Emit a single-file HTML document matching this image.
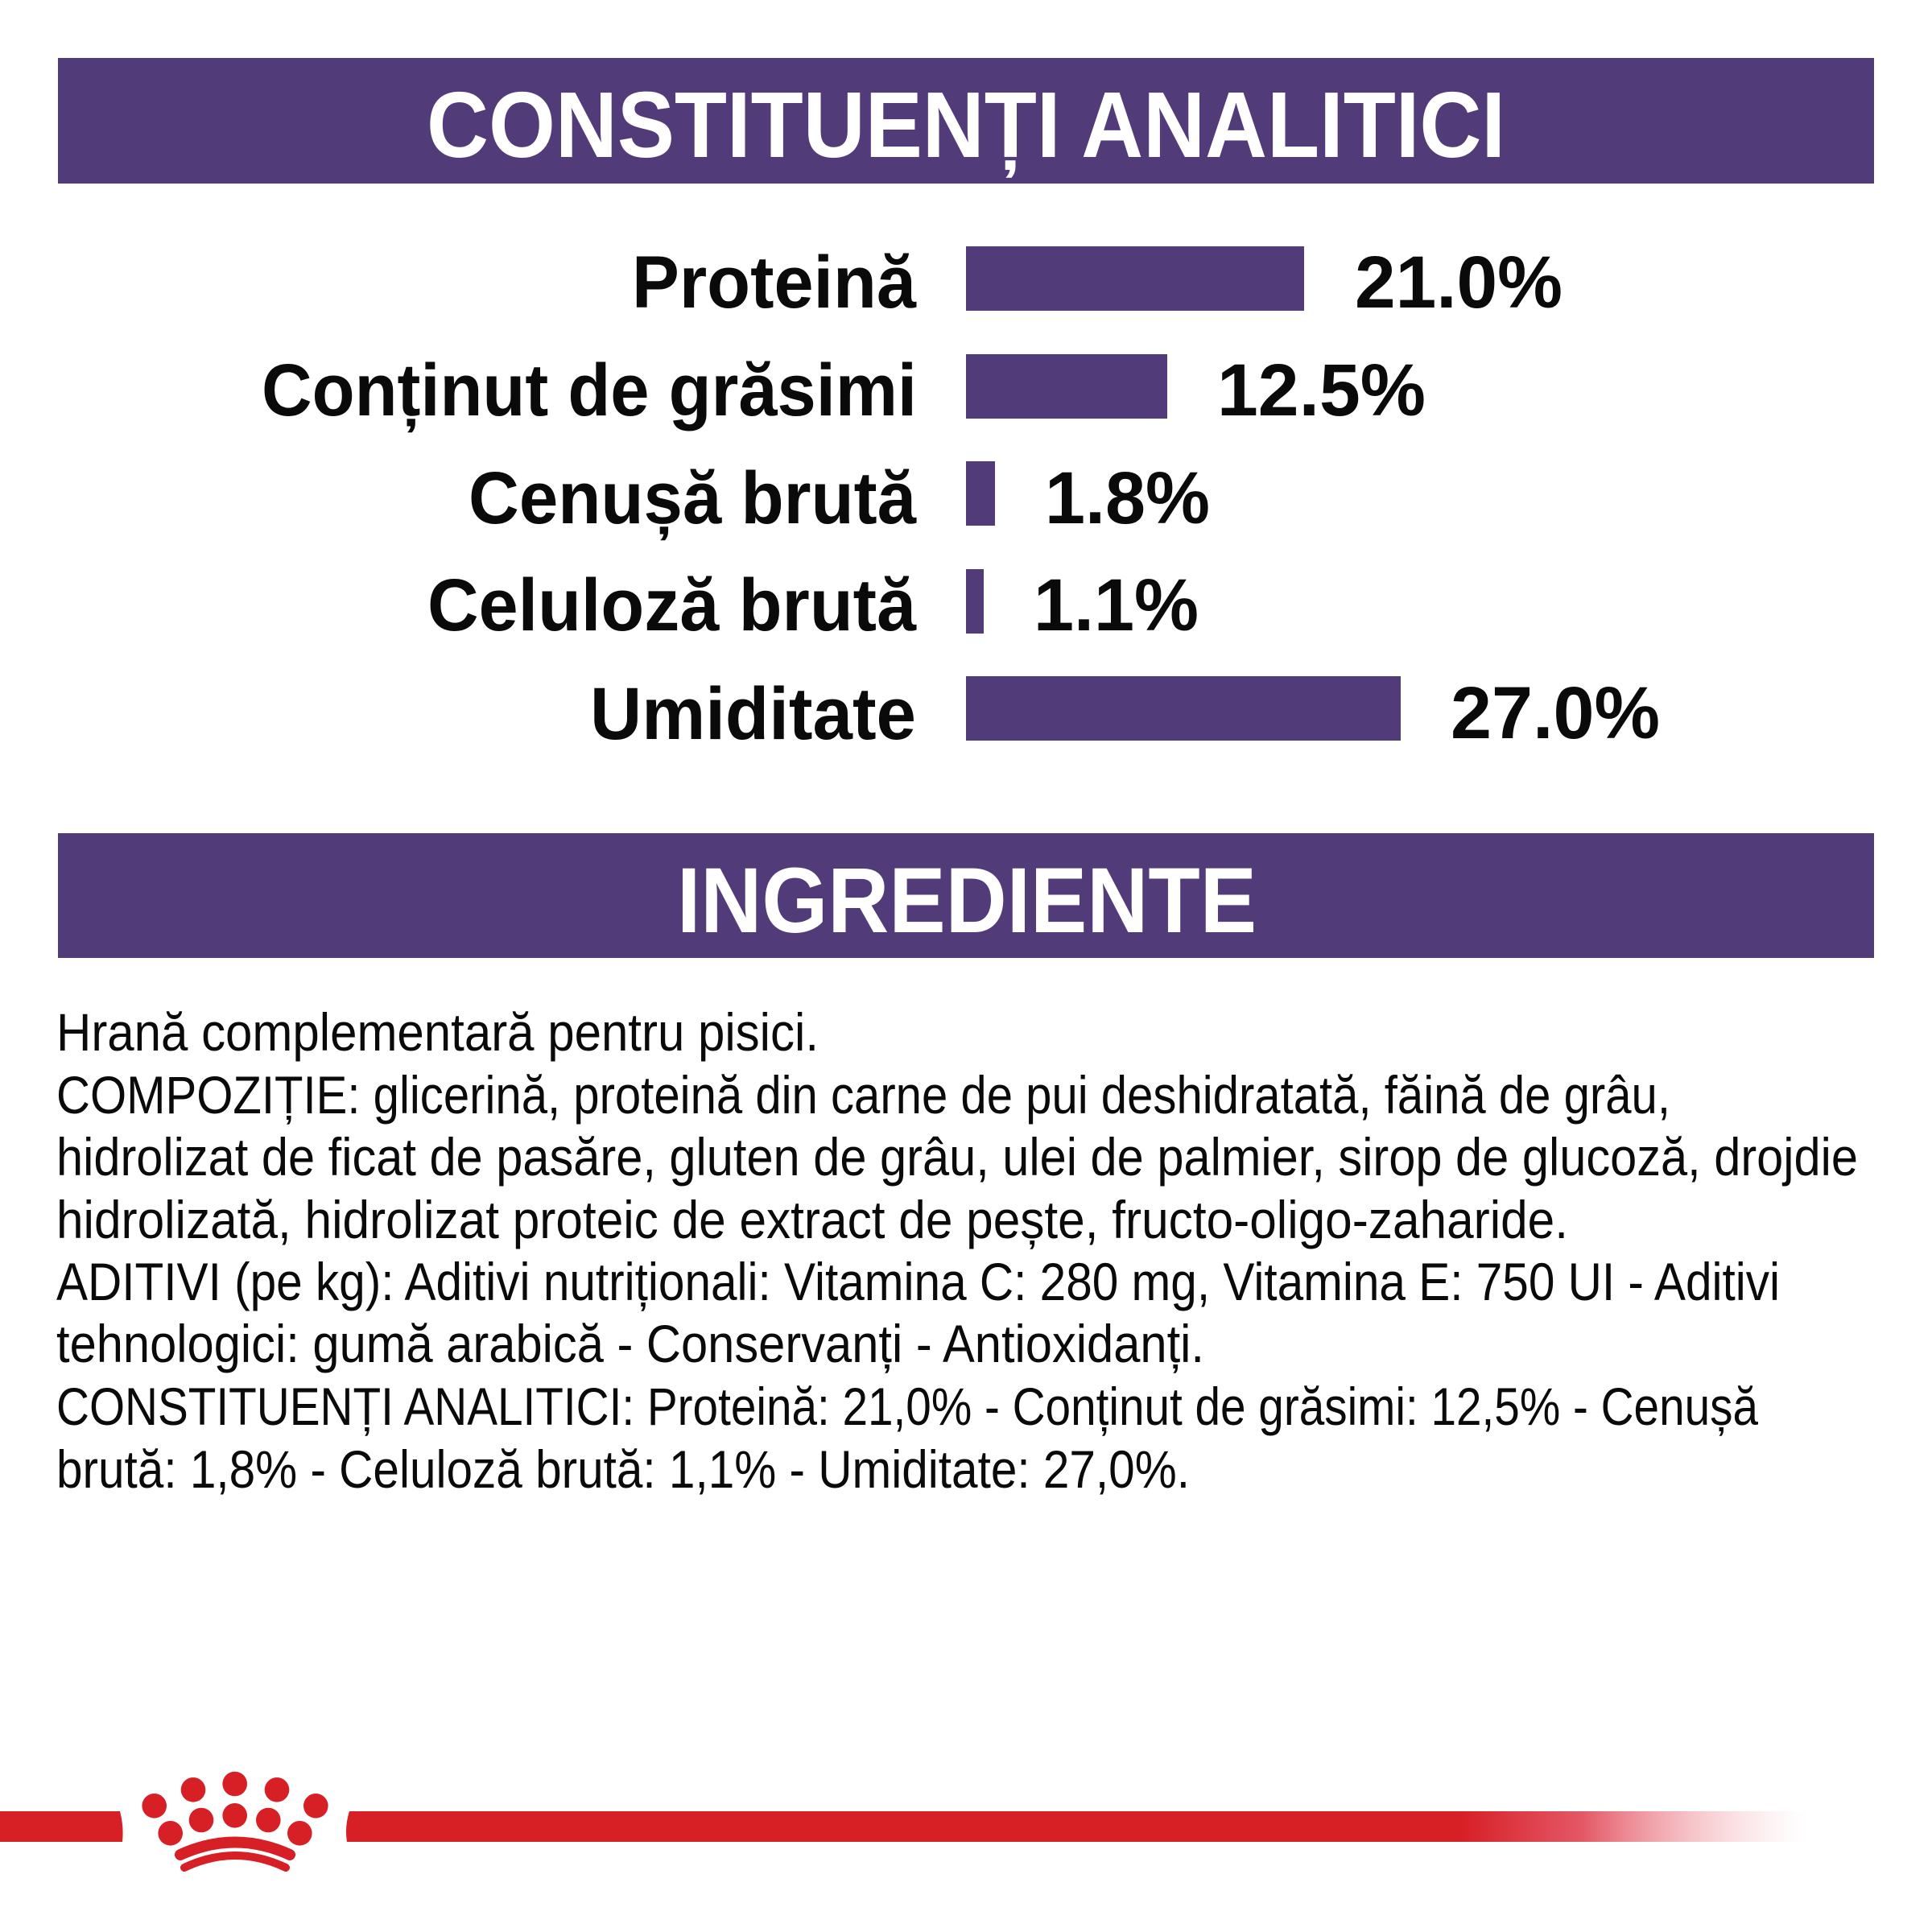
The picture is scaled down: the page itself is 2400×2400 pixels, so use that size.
<!DOCTYPE html>
<html>
<head>
<meta charset="utf-8">
<style>
  html, body { margin: 0; padding: 0; background: #ffffff; }
  svg { display: block; }
  .b { font-family: "Liberation Sans", "DejaVu Sans", sans-serif; font-weight: bold; }
  .r { font-family: "Liberation Sans", "DejaVu Sans", sans-serif; font-weight: normal; }
</style>
</head>
<body>
<svg width="2400" height="2400" viewBox="0 0 2400 2400" xmlns="http://www.w3.org/2000/svg">
  <defs>
    <linearGradient id="fade" gradientUnits="userSpaceOnUse" x1="1815" y1="0" x2="2245" y2="0">
      <stop offset="0" stop-color="#d71f26" stop-opacity="1"/>
      <stop offset="0.35" stop-color="#df3a4a" stop-opacity="0.85"/>
      <stop offset="1" stop-color="#f6b8c2" stop-opacity="0"/>
    </linearGradient>
  </defs>
  <rect x="0" y="0" width="2400" height="2400" fill="#ffffff"/>

  <!-- Header 1 -->
  <rect x="72" y="72" width="2256" height="156" fill="#513b79"/>
  <text class="b" x="530" y="195" font-size="116" fill="#ffffff" textLength="1340" lengthAdjust="spacingAndGlyphs">CONSTITUENȚI ANALITICI</text>

  <!-- Bars -->
  <rect x="1200" y="306" width="420" height="80" fill="#513b79"/>
  <rect x="1200" y="440" width="250" height="80" fill="#513b79"/>
  <rect x="1200" y="573" width="36" height="80" fill="#513b79"/>
  <rect x="1200" y="707" width="22" height="80" fill="#513b79"/>
  <rect x="1200" y="840" width="540" height="80" fill="#513b79"/>

  <!-- Labels -->
  <g class="b" font-size="92" fill="#0a0a0a">
    <text x="785" y="382" textLength="353" lengthAdjust="spacingAndGlyphs">Proteină</text>
    <text x="325" y="516" textLength="814" lengthAdjust="spacingAndGlyphs">Conținut de grăsimi</text>
    <text x="582" y="650" textLength="556" lengthAdjust="spacingAndGlyphs">Cenușă brută</text>
    <text x="531" y="783" textLength="607" lengthAdjust="spacingAndGlyphs">Celuloză brută</text>
    <text x="733" y="918" textLength="405" lengthAdjust="spacingAndGlyphs">Umiditate</text>
  </g>

  <!-- Values -->
  <g class="b" font-size="92" fill="#0a0a0a">
    <text x="1683" y="382" textLength="258" lengthAdjust="spacingAndGlyphs">21.0%</text>
    <text x="1512" y="516" textLength="259" lengthAdjust="spacingAndGlyphs">12.5%</text>
    <text x="1298" y="650" textLength="205" lengthAdjust="spacingAndGlyphs">1.8%</text>
    <text x="1284" y="783" textLength="205" lengthAdjust="spacingAndGlyphs">1.1%</text>
    <text x="1802" y="917" textLength="260" lengthAdjust="spacingAndGlyphs">27.0%</text>
  </g>

  <!-- Header 2 -->
  <rect x="72" y="1035" width="2256" height="155" fill="#513b79"/>
  <text class="b" x="841" y="1158" font-size="115" fill="#ffffff" textLength="720" lengthAdjust="spacingAndGlyphs">INGREDIENTE</text>

  <!-- Body text -->
  <g class="r" font-size="66" fill="#0a0a0a">
    <text x="70" y="1305" textLength="947" lengthAdjust="spacingAndGlyphs">Hrană complementară pentru pisici.</text>
    <text x="70" y="1383" textLength="2005" lengthAdjust="spacingAndGlyphs">COMPOZIȚIE: glicerină, proteină din carne de pui deshidratată, făină de grâu,</text>
    <text x="70" y="1460" textLength="2238" lengthAdjust="spacingAndGlyphs">hidrolizat de ficat de pasăre, gluten de grâu, ulei de palmier, sirop de glucoză, drojdie</text>
    <text x="70" y="1538" textLength="1878" lengthAdjust="spacingAndGlyphs">hidrolizată, hidrolizat proteic de extract de pește, fructo-oligo-zaharide.</text>
    <text x="70" y="1615" textLength="2141" lengthAdjust="spacingAndGlyphs">ADITIVI (pe kg): Aditivi nutriționali: Vitamina C: 280 mg, Vitamina E: 750 UI - Aditivi</text>
    <text x="70" y="1692" textLength="1426" lengthAdjust="spacingAndGlyphs">tehnologici: gumă arabică - Conservanți - Antioxidanți.</text>
    <text x="70" y="1770" textLength="2114" lengthAdjust="spacingAndGlyphs">CONSTITUENȚI ANALITICI: Proteină: 21,0% - Conținut de grăsimi: 12,5% - Cenușă</text>
    <text x="70" y="1848" textLength="1408" lengthAdjust="spacingAndGlyphs">brută: 1,8% - Celuloză brută: 1,1% - Umiditate: 27,0%.</text>
  </g>

  <!-- Footer red band -->
  <path d="M0,2250 L149,2250 Q154,2269 152,2288 L0,2288 Z" fill="#d71f26"/>
  <path d="M434,2250 Q428,2269 431,2288 L1815,2288 L1815,2250 Z" fill="#d71f26"/>
  <rect x="1814" y="2250" width="436" height="38" fill="url(#fade)"/>

  <!-- Crown logo -->
  <g fill="#d71f26">
    <circle cx="291.7" cy="2216" r="15.3"/>
    <circle cx="240" cy="2223.3" r="15.3"/>
    <circle cx="344" cy="2223.3" r="15.3"/>
    <circle cx="191.7" cy="2243.3" r="15.3"/>
    <circle cx="392.3" cy="2243.3" r="15.3"/>
    <circle cx="250" cy="2261" r="15.3"/>
    <circle cx="291.7" cy="2255.3" r="15.3"/>
    <circle cx="333.3" cy="2261" r="15.3"/>
    <circle cx="211.7" cy="2277.3" r="15.3"/>
    <circle cx="372.3" cy="2277.3" r="15.3"/>
  </g>
  <path d="M224,2304 Q292,2273 360,2304" fill="none" stroke="#d71f26" stroke-width="14" stroke-linecap="round"/>
  <path d="M229,2320 Q292,2290 355,2320" fill="none" stroke="#d71f26" stroke-width="10" stroke-linecap="round"/>
</svg>
</body>
</html>
